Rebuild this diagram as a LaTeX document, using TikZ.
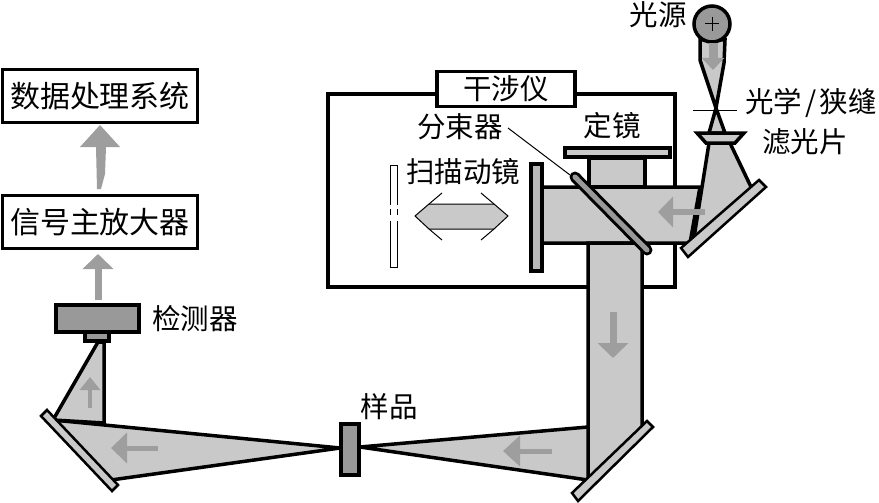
\documentclass[tikz,border=0pt]{standalone}
\usepackage{fontspec}
\setmainfont{Noto Sans CJK SC}
\usetikzlibrary{arrows.meta}
\definecolor{beamgray}{gray}{0.79}
\definecolor{partgray}{gray}{0.6}
\definecolor{flowgray}{gray}{0.62}

\begin{document}
\begin{tikzpicture}[x=1pt, y=-1pt,
  heavy/.style={draw=black, line width=3.5pt, line join=miter},
  beam/.style={heavy, fill=beamgray},
  part/.style={heavy, fill=partgray},
  mirror/.style={draw=black, line width=2.5pt, fill=beamgray},
  box/.style={draw=black, line width=3.5pt, fill=white},
  thinline/.style={draw=black, line width=1pt},
  flow/.style n args={3}{draw=flowgray, line width=#1pt,
    -{Triangle[length=#2pt, width=#3pt]}},
  txt/.style={inner sep=0pt, font=\fontsize{28.5}{29}\selectfont}]
  \useasboundingbox (0,0) rectangle (879,503);

  % 干涉仪外框
  \draw[heavy] (328,94) rectangle (675,287);
  \node[box, minimum width=138pt, minimum height=35pt, inner sep=0pt, font=\fontsize{28.5}{29}\selectfont] (title) at (506,89) {干涉仪};

  % 光路
  \coordinate (crossing) at (716,108);
  \filldraw[beam] (589,187) rectangle (645,158);
  \filldraw[beam] (542,187) -- (700,187) -- (690,243) -- (542,243) -- cycle;
  \filldraw[beam] (588,243) -- (642,243) -- (642,428) -- (588,482) -- cycle;
  \filldraw[beam] (588,427) -- (360,447) -- (588,480) -- cycle;
  \filldraw[beam] (709,143) -- (730,143) -- (752,189) -- (693,244) -- cycle;
  \filldraw[beam] (53,420) -- (340,448) -- (111,480) -- cycle;
  \filldraw[beam] (53,420) -- (98,342) -- (104,342) -- (104,423) -- cycle;
  \filldraw[beam] (700,40) -- (700,60) -- (crossing) -- (724,63) -- (725,40) -- cycle;
  \filldraw[beam] (crossing) -- (709,133) -- (725,133) -- cycle;

  % 光源
  \node[draw=black, line width=3.5pt, fill=partgray, circle, minimum size=36pt, inner sep=0pt] (source) at (712,24) {};
  \draw[thinline] (705,24) -- (719,24);
  \draw[thinline] (712,17) -- (712,31);
  \draw[thinline] (693,111) -- (737,111);
  \filldraw[beam] (697,133) -- (744,133) -- (735,143) -- (706,143) -- cycle;

  % 反射镜
  \filldraw[mirror] (681,248) -- (759,180) -- (766,187) -- (688,257) -- cycle;
  \filldraw[mirror] (572,493) -- (647,421) -- (653,427) -- (578,501) -- cycle;
  \filldraw[mirror] (41,416) -- (47,410) -- (118,485) -- (112,491) -- cycle;
  \filldraw[beam] (565,148) rectangle (670,157);
  \filldraw[part, fill=partgray!70] (531,164) rectangle (542,271);
  \draw[line width=11pt, line cap=round] (575,177) -- (647,250);
  \draw[line width=5pt, line cap=round, partgray] (575,177) -- (647,250);

  % 样品和检测器
  \filldraw[part] (341,424) rectangle (359,475);
  \filldraw[part] (56,305) rectangle (139,332);
  \filldraw[part] (85,332) rectangle (109,341);

  % 扫描动镜
  \draw[thinline] (390,205) -- (390,165) -- (397,165) -- (397,205);
  \draw[thinline] (390,209) -- (390,215);
  \draw[thinline] (397,209) -- (397,215);
  \draw[thinline] (390,221) -- (390,267) -- (397,267) -- (397,221);
  \filldraw[thinline, fill=beamgray] (415,216) -- (429,204) -- (494,204) -- (508,216) -- (494,229) -- (429,229) -- cycle;
  \draw[thinline] (442,193) -- (429,204);
  \draw[thinline] (442,240) -- (429,229);
  \draw[thinline] (481,193) -- (494,204);
  \draw[thinline] (481,240) -- (494,229);
  \draw[thinline] (508,128) -- (570,175);

  % 灰色箭头
  \draw[flow={9}{12}{22}] (713,43) -- (713,70);
  \draw[flow={6}{15}{30}] (705,212) -- (658,212);
  \draw[flow={7}{15}{30}] (613,312) -- (613,358);
  \draw[flow={5}{17}{30}] (552,451) -- (503,451);
  \draw[flow={5}{16}{30}] (158,448) -- (111,448);
  \draw[flow={4}{13}{20}] (90,408) -- (90,377);
  \draw[flow={7}{15}{30}] (98,300) -- (98,254);
  \fill[flowgray] (100,125) -- (120,147) -- (106,147) -- (105,174) -- (101,189) -- (97,189) -- (96,147) -- (80,147) -- cycle;

  % 文字
  \node[box, minimum width=195pt, minimum height=53pt, inner sep=0pt, font=\fontsize{30}{30}\selectfont] (data) at (100,96) {数据处理系统};
  \node[box, minimum width=195pt, minimum height=53pt, inner sep=0pt, font=\fontsize{30}{30}\selectfont] (amp) at (100,222) {信号主放大器};
  \node[txt] (sourcelabel) at (658,15) {光源};
  \node[txt] (slitlabel) at (811,103) {光学\hspace{3pt}/\hspace{3pt}狭缝};
  \node[txt] (filterlabel) at (805,142) {滤光片};
  \node[txt] (splitterlabel) at (460,127) {分束器};
  \node[txt] (fixedlabel) at (612,126) {定镜};
  \node[txt] (movinglabel) at (463,172) {扫描动镜};
  \node[txt] (detectorlabel) at (195,319) {检测器};
  \node[txt] (samplelabel) at (389,407) {样品};
\end{tikzpicture}
\end{document}
